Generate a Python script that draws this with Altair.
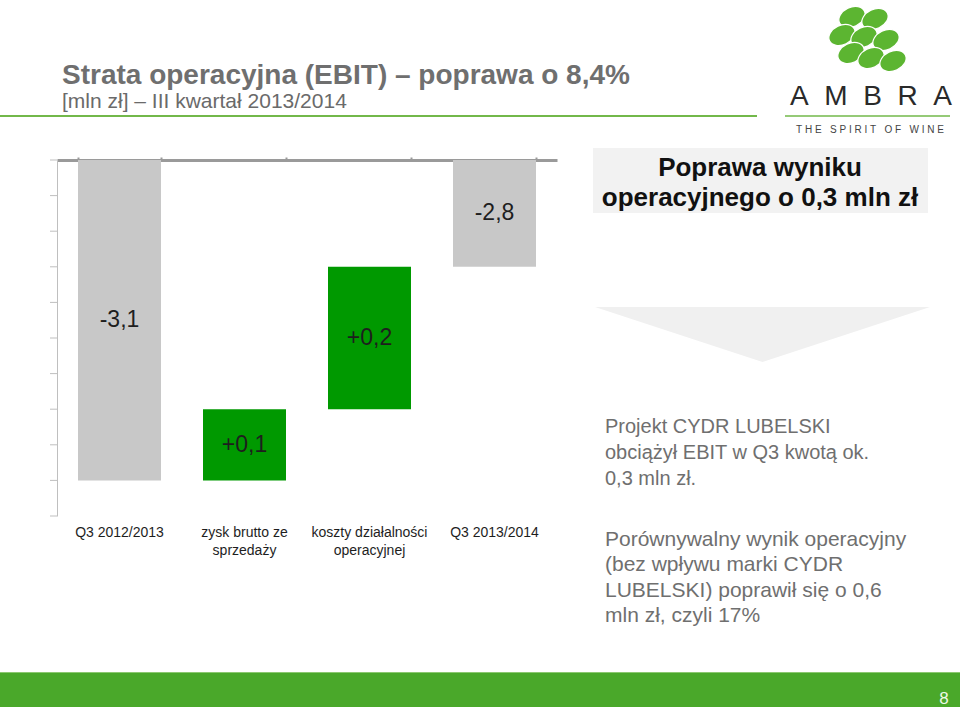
import altair as alt
import pandas as pd

# ---- chart data ----
categories = ["Q3 2012/2013", "zysk brutto ze sprzedaży", "koszty działalności operacyjnej", "Q3 2013/2014"]
cat_labels = ["Q3 2012/2013", "zysk brutto ze\nsprzedaży", "koszty działalności\noperacyjnej", "Q3 2013/2014"]
values = [-3.1, 0.1, 0.2, -2.8]
kinds = ["total", "delta", "delta", "total"]
value_labels = ["-3,1", "+0,1", "+0,2", "-2,8"]
axis_min, axis_max = -3.15, -2.65
tick_values = [-3.15, -3.10, -3.05, -3.00, -2.95, -2.90, -2.85, -2.80, -2.75, -2.70, -2.65]

FONT = "Liberation Sans"
GRAY_BAR = "#c8c8c8"
GREEN_BAR = "#009900"
NB = "\u00a0"

# build waterfall table
rows = []
running = 0.0
for c, lab, v, k, vl in zip(categories, cat_labels, values, kinds, value_labels):
    if k == "total":
        start, end = axis_max, v
        running = v
        color = GRAY_BAR
    else:
        start, end = running, running + v
        running = running + v
        color = GREEN_BAR
    rows.append({"cat": c, "catlab": lab, "start": start, "end": end,
                 "mid": (start + end) / 2, "label": vl, "color": color})
df = pd.DataFrame(rows)
ticks_df = pd.DataFrame({"v": tick_values})

x_enc = alt.X("cat:N", sort=categories,
              scale=alt.Scale(paddingInner=0.336, paddingOuter=0.168),
              axis=alt.Axis(orient="top", labels=False, title=None, domainColor="#9a9a9a",
                            domainWidth=3, tickColor="#9a9a9a", tickBand="extent", tickSize=3,
                            tickWidth=2))
y_scale = alt.Scale(domain=[axis_min, axis_max], nice=False, zero=False)

bars = alt.Chart(df).mark_bar().encode(
    x=x_enc,
    y=alt.Y("start:Q", scale=y_scale,
            axis=alt.Axis(values=tick_values, labels=False, title=None, grid=False,
                          domainColor="#bfbfbf", ticks=False)),
    y2="end:Q",
    color=alt.Color("color:N", scale=None),
)

y_ticks = alt.Chart(ticks_df).mark_rule(color="#bfbfbf", strokeWidth=1).encode(
    x=alt.value(-7), x2=alt.value(0), y=alt.Y("v:Q", scale=y_scale))

bar_text = alt.Chart(df).mark_text(font=FONT, fontSize=23, color="#1e1e1e", baseline="middle").encode(
    x=alt.X("cat:N", sort=categories), y=alt.Y("mid:Q", scale=y_scale), text="label:N")

cat_text = alt.Chart(df).mark_text(font=FONT, fontSize=14, color="#1e1e1e", baseline="alphabetic",
                                    lineBreak="\n", lineHeight=18).encode(
    x=alt.X("cat:N", sort=categories), y=alt.value(377), text="catlab:N")


def txt(lines, x, y, size, color, weight="normal", align="left", lh=20):
    d = pd.DataFrame({"t": ["\n".join(lines)]})
    return alt.Chart(d).mark_text(align=align, baseline="alphabetic", fontSize=size, font=FONT,
                                  color=color, fontWeight=weight, lineBreak="\n",
                                  lineHeight=lh).encode(
        x=alt.value(x), y=alt.value(y), text="t:N")


def one():
    return alt.Chart(pd.DataFrame({"a": [0]}))


title = txt(["Strata operacyjna (EBIT) – poprawa o 8,4%"], 5, -76, 28, "#6f6f6f", weight="bold")
subtitle = txt(["[mln zł] – III kwartał 2013/2014"], 5, -52, 21, "#6a6a6a")
title_line = one().mark_rule(color="#72b84a", strokeWidth=2).encode(
    x=alt.value(-57), x2=alt.value(700), y=alt.value(-44))
logo_line = one().mark_rule(color="#72b84a", strokeWidth=1.5).encode(
    x=alt.value(728), x2=alt.value(893), y=alt.value(-44))

ELLIPSE = "M -1 0 A 1 0.7 0 1 1 1 0 A 1 0.7 0 1 1 -1 0 Z"
logo_dots = [(795, -143), (818, -141), (785, -125), (807, -123), (829, -120),
             (794, -107), (814, -102), (836, -99)]
dots = [one().mark_point(shape=ELLIPSE, size=760, angle=335, filled=True, opacity=1,
                         color="#5cb531", stroke="white", strokeWidth=1.2).encode(
            x=alt.value(px), y=alt.value(py))
        for px, py in logo_dots]
ambra_txt = (NB * 2).join(list("AMBRA"))
ambra = txt([ambra_txt], 814, -55, 28, "#2a2a2a", align="center")
spirit_txt = (NB * 3).join(NB.join(list(w)) for w in ["THE", "SPIRIT", "OF", "WINE"])
spirit = txt([spirit_txt], 813, -27, 10, "#444444", align="center")

box = one().mark_rect(color="#f2f2f2").encode(
    x=alt.value(536), x2=alt.value(871), y=alt.value(-12), y2=alt.value(53))
box_text = txt(["Poprawa wyniku", "operacyjnego o 0,3 mln zł"], 703, 16, 26, "#111111",
               weight="bold", align="center", lh=30)

TRI = "M -1 -0.164 L 1 -0.164 L 0 0.164 Z"
arrow = one().mark_point(shape=TRI, size=112225, filled=True, opacity=1, color="#f0f0f0",
                         strokeWidth=0).encode(x=alt.value(705.5), y=alt.value(174.5))

para1 = txt(["Projekt CYDR LUBELSKI", "obciążył EBIT w Q3 kwotą ok.", "0,3 mln zł."],
            548, 273, 20, "#6f6f6f", lh=26)
para2 = txt(["Porównywalny wynik operacyjny", "(bez wpływu marki CYDR",
             "LUBELSKI) poprawił się o 0,6", "mln zł, czyli 17%"],
            548, 386, 21, "#6f6f6f", lh=25.3)

band = one().mark_rect(color="#4aa82a").encode(
    x=alt.value(-57), x2=alt.value(903), y=alt.value(512), y2=alt.value(547))
band_line = one().mark_rule(color="#8cc870", strokeWidth=1).encode(
    x=alt.value(-57), x2=alt.value(903), y=alt.value(512.5))
page = txt(["8"], 887, 544, 17, "#eef8e8", align="center")

chart = alt.layer(
    box, arrow, bars, y_ticks, bar_text, cat_text, title, subtitle, title_line, logo_line, *dots,
    ambra, spirit, box_text, para1, para2, band, band_line, page
).properties(
    width=500, height=356,
    autosize=alt.AutoSizeParams(type="none"),
    padding={"left": 57, "top": 160, "right": 403, "bottom": 191},
    background="white",
).configure_view(strokeWidth=0)

chart.save("out.html", embed_options={"renderer": "svg", "actions": False})
